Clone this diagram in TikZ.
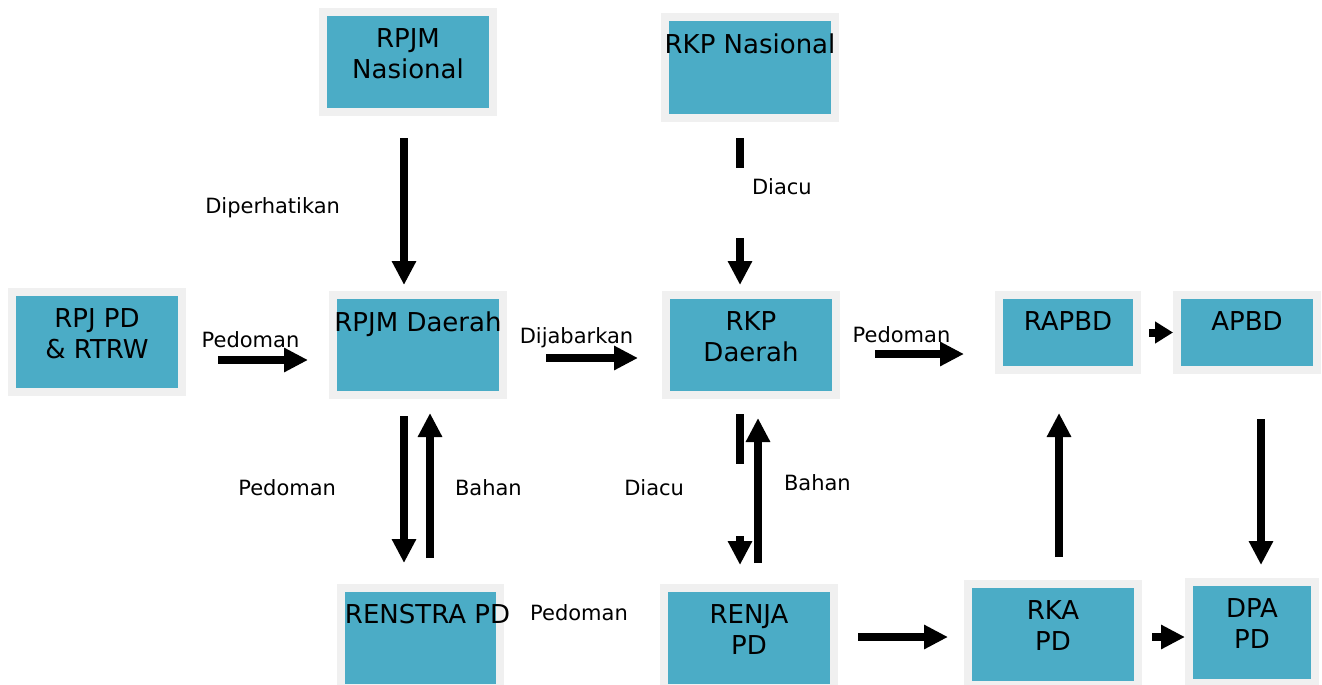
\documentclass[tikz,border=0pt]{standalone}
\usepackage{fontspec}
\setmainfont{DejaVu Sans}
\usetikzlibrary{arrows.meta,positioning}
\definecolor{boxteal}{HTML}{4BACC6}
\definecolor{boxframe}{HTML}{F0F0F0}

\begin{document}
\begin{tikzpicture}[
    x=0.5pt, y=-0.5pt,
    % blok dokumen perencanaan
    box/.style={rectangle, fill=boxteal, draw=boxframe, line width=4pt, inner sep=0pt,
                minimum width=85pt, minimum height=50pt},
    % teks di bagian atas blok
    boxtext/.style={anchor=north, yshift=-10pt, align=center, inner sep=0pt,
                    font=\fontsize{13}{15.5}\selectfont},
    lbl/.style={font=\fontsize{10.5}{12}\selectfont, inner sep=1pt},
    arrow/.style={-{Triangle[length=12pt, width=11.5pt]}, line width=4pt},
    shortarrow/.style={-{Triangle[length=9pt, width=10.5pt]}, line width=4pt}
]
\useasboundingbox (0,0) rectangle (1322,685);
\clip (0,0) rectangle (1322,685);

% --- Baris atas: nasional ---
\node[box, label={[boxtext]north:{RPJM\\Nasional}}] (rpjmn) at (408,62) {};
\node[box, minimum height=50.5pt, label={[boxtext]north:{RKP Nasional}}] (rkpn) at (750,67.5) {};

% --- Baris tengah: daerah ---
\node[box, label={[boxtext]north:{RPJ PD\\\& RTRW}}] (rpjpd) at (97,342) {};
\node[box, label={[boxtext]north:{RPJM Daerah}}] (rpjmd) at (418,345) {};
\node[box, label={[boxtext]north:{RKP\\Daerah}}] (rkpd) at (751,345) {};
\node[box, minimum width=69pt, minimum height=37.5pt, label={[boxtext]north:{RAPBD}}] (rapbd) at (1068,332.5) {};
\node[box, minimum width=70pt, minimum height=37.5pt, label={[boxtext]north:{APBD}}] (apbd) at (1247,332.5) {};

% --- Baris bawah: perangkat daerah ---
\node[box, minimum width=79.5pt, label={[boxtext, xshift=3.5pt]north:{RENSTRA PD}}] (renstra) at (420.5,638) {};
\node[box, label={[boxtext]north:{RENJA\\PD}}] (renja) at (749,638) {};
\node[box, minimum height=50.5pt, label={[boxtext]north:{RKA\\PD}}] (rka) at (1053,634.5) {};
\node[box, minimum width=63pt, minimum height=50.5pt, label={[boxtext]north:{DPA\\PD}}] (dpa) at (1252,632.5) {};
\node[lbl] (pedren) at (579,613) {Pedoman};

% --- Panah vertikal ---
\draw[arrow, shorten <=11pt, shorten >=3pt] ([xshift=-2pt]rpjmn.south) -- ([xshift=-7pt]rpjmd.north)
    node[lbl, midway, left=29pt, yshift=-2.25pt] {Diperhatikan};
\draw[arrow, shorten <=8pt, shorten >=3pt, dash pattern=on 15pt off 35pt on 100pt]
    ([xshift=-5pt]rkpn.south) -- ([xshift=-5.5pt]rkpd.north)
    node[lbl, midway, right=3pt, yshift=9.75pt] {Diacu};
\draw[arrow, shorten <=8.5pt, shorten >=10.5pt] ([xshift=-7pt]rpjmd.south) -- ([xshift=-8.25pt]renstra.north)
    node[lbl, midway, left=31pt, yshift=2pt] {Pedoman};
\draw[arrow, shorten <=13pt, shorten >=7pt] ([xshift=4.75pt]renstra.north) -- ([xshift=6pt]rpjmd.south)
    node[lbl, midway, right=9.5pt, yshift=2pt] {Bahan};
\draw[arrow, shorten <=7.5pt, shorten >=9.5pt, dash pattern=on 25pt off 36pt on 50pt]
    ([xshift=-5.5pt]rkpd.south) -- ([xshift=-4.5pt]renja.north)
    node[lbl, midway, left=25pt, yshift=2pt] {Diacu};
\draw[arrow, shorten <=10.5pt, shorten >=9.5pt] ([xshift=4.5pt]renja.north) -- ([xshift=3.5pt]rkpd.south)
    node[lbl, midway, right=10pt, yshift=4.5pt] {Bahan};
\draw[arrow, shorten <=11.5pt, shorten >=19.5pt] ([xshift=3pt]rka.north) -- ([xshift=-4.5pt]rapbd.south);
\draw[arrow, shorten <=22.5pt, shorten >=6.5pt] ([xshift=7pt]apbd.south) -- ([xshift=4.5pt]dpa.north);

% --- Panah horizontal ---
\draw[arrow, shorten <=16pt, shorten >=10.5pt] ([yshift=-9pt]rpjpd.east) -- ([yshift=-7.5pt]rpjmd.west)
    node[lbl, midway, above=3pt, xshift=-3.5pt] {Pedoman};
\draw[arrow, shorten <=19.5pt, shorten >=12pt] ([yshift=-6.5pt]rpjmd.east) -- ([yshift=-6.5pt]rkpd.west)
    node[lbl, midway, above=2pt, xshift=-4pt] {Dijabarkan};
\draw[arrow, shorten <=17.5pt, shorten >=15.5pt] ([yshift=-4.5pt]rkpd.east) -- ([yshift=-10.75pt]rapbd.west)
    node[lbl, midway, above=2.5pt, xshift=-8pt] {Pedoman};
\draw[shortarrow, shorten <=4pt] (rapbd.east) -- (apbd.west);
\draw[arrow, shorten <=10pt, shorten >=8pt] ([yshift=0.5pt]renja.east) -- ([yshift=-1.25pt]rka.west);
\draw[arrow, shorten <=5pt] ([yshift=-1.25pt]rka.east) -- ([yshift=-2.25pt]dpa.west);

\end{tikzpicture}
\end{document}
